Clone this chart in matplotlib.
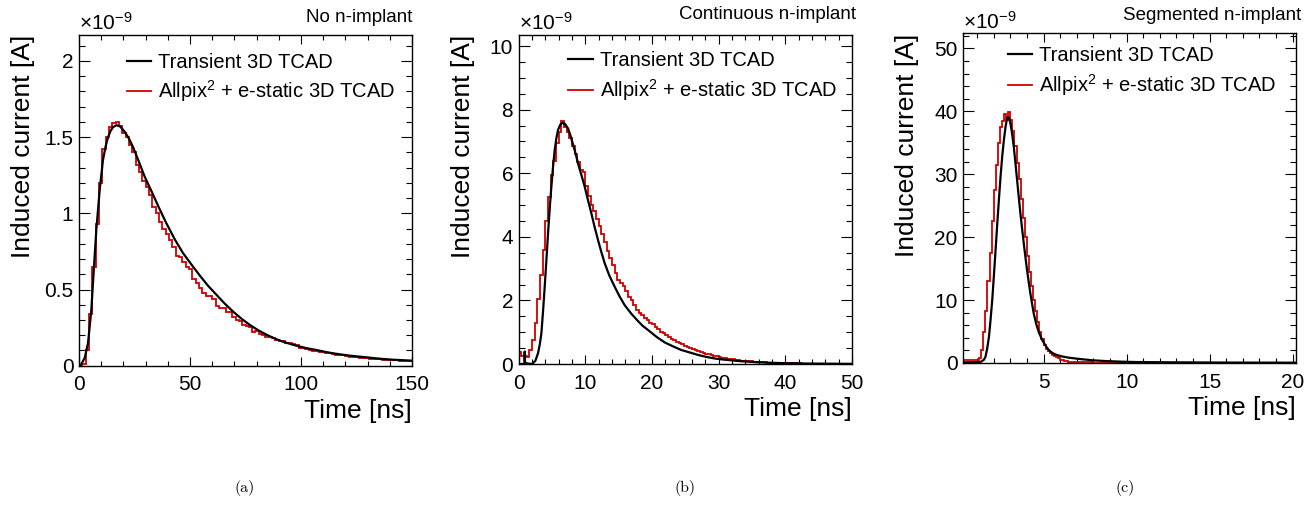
import numpy as np
import matplotlib
matplotlib.use('Agg')
import matplotlib.pyplot as plt
from matplotlib.ticker import MultipleLocator, FuncFormatter
from matplotlib.lines import Line2D

plt.rcParams['font.family'] = ['Liberation Sans', 'DejaVu Sans']
plt.rcParams['mathtext.fontset'] = 'custom'
plt.rcParams['mathtext.rm'] = 'Liberation Sans'
plt.rcParams['mathtext.it'] = 'Liberation Sans:italic'
plt.rcParams['mathtext.bf'] = 'Liberation Sans:bold'

# ---------------- data (currents in units of 1e-9 A, time in ns) ----------------
# (a) No n-implant
t_a_tcad = [0, 0.3, 1, 2.55, 4.05, 5.55, 6.75, 7.8, 9.3, 10.8, 12.0, 13.1, 14.2, 15.3, 16.8,
            18.5, 20.6, 22.5, 24.3, 26.8, 29.6, 32.5, 35.6, 39.0, 43.1, 46.8, 50.6, 54.5, 58.1,
            62, 65.8, 69.5, 73.2, 77, 80.8, 84.5, 88.2, 92, 95.8, 99.5, 103.2, 107, 110.8,
            114.6, 118.3, 122, 125.8, 129.6, 133.3, 137, 142, 147.6, 150]
i_a_tcad = [0, 0.0, 0.01, 0.05, 0.147, 0.365, 0.65, 0.89, 1.15, 1.35, 1.44, 1.50, 1.54, 1.565, 1.578,
            1.57, 1.535, 1.49, 1.436, 1.345, 1.24, 1.15, 1.05, 0.945, 0.83, 0.74, 0.665, 0.59, 0.525,
            0.464, 0.405, 0.354, 0.308, 0.267, 0.232, 0.203, 0.178, 0.157, 0.14, 0.125, 0.113, 0.103, 0.091,
            0.081, 0.073, 0.066, 0.060, 0.055, 0.049, 0.044, 0.039, 0.035, 0.033]
a_edges = np.linspace(0.0, 150.0, 101)
i_a_apx = [0.0, 0.01, 0.10, 0.34, 0.65, 0.93, 1.20, 1.42, 1.50, 1.567,
           1.59, 1.60, 1.57, 1.53, 1.50, 1.45, 1.40, 1.32, 1.27, 1.21,
           1.17, 1.12, 1.04, 1.00, 0.945, 0.90, 0.867, 0.824, 0.78, 0.72,
           0.715, 0.68, 0.645, 0.632, 0.57, 0.54, 0.507, 0.48, 0.46, 0.46,
           0.44, 0.39, 0.38, 0.38, 0.355, 0.35, 0.32, 0.30, 0.295, 0.27,
           0.26, 0.255, 0.22, 0.23, 0.205, 0.20, 0.19, 0.188, 0.185, 0.17,
           0.165, 0.162, 0.15, 0.147, 0.14, 0.135, 0.118, 0.115, 0.112, 0.105,
           0.098, 0.097, 0.092, 0.087, 0.086, 0.084, 0.075, 0.072, 0.07, 0.068,
           0.066, 0.058, 0.056, 0.054, 0.052, 0.05, 0.049, 0.047, 0.044, 0.043,
           0.041, 0.04, 0.038, 0.037, 0.036, 0.035, 0.033, 0.032, 0.031, 0.030]

# (b) Continuous n-implant
t_b_tcad = [0, 0.85, 0.9, 0.95, 1.2, 2.0, 2.5, 2.9, 3.15, 3.4, 3.65, 3.9, 4.15, 4.4, 4.65, 4.9,
            5.15, 5.4, 5.65, 5.9, 6.2, 6.55, 6.95, 7.4, 7.75, 8.1, 8.5, 8.9, 9.4, 9.9, 10.4, 10.9,
            11.4, 11.9, 12.4, 12.9, 13.6, 14.4, 15.1, 15.9, 16.9, 17.9, 18.6, 19.4, 20.7, 21.9,
            23.2, 24.4, 25.7, 27.0, 28.2, 29.5, 30.7, 33.2, 35.7, 38.2, 40.7, 43.2, 46.5, 50]
i_b_tcad = [0, 0.0, 0.39, 0.05, 0.02, 0.0, 0.1, 0.34, 0.6, 0.96, 1.65, 2.43, 3.25, 4.11, 4.88, 5.58,
            6.2, 6.73, 7.1, 7.36, 7.52, 7.59, 7.55, 7.41, 7.2, 6.94, 6.65, 6.31, 5.95, 5.58, 5.15, 4.74,
            4.3, 3.9, 3.52, 3.17, 2.78, 2.43, 2.14, 1.85, 1.58, 1.35, 1.2, 1.07, 0.85, 0.68,
            0.55, 0.44, 0.36, 0.28, 0.22, 0.17, 0.14, 0.09, 0.055, 0.035, 0.022, 0.015, 0.009, 0.005]
b_edges = np.linspace(0.0, 50.0, 126)
i_b_apx = [0.39, 0.25, 0.24, 0.23, 0.45, 0.75, 1.3, 2.05, 2.8, 3.6,
           4.5, 5.25, 5.95, 6.4, 6.95, 7.3, 7.65, 7.45, 7.3, 7.1,
           6.85, 6.6, 6.35, 6.1, 6.05, 5.6, 5.3, 5.0, 4.8, 4.55,
           4.35, 4.1, 3.85, 3.55, 3.35, 3.1, 2.85, 2.65, 2.55, 2.45,
           2.3, 2.1, 2.0, 1.85, 1.7, 1.62, 1.55, 1.45, 1.38, 1.3,
           1.25, 1.15, 1.1, 1.02, 0.97, 0.9, 0.85, 0.8, 0.75, 0.7,
           0.66, 0.62, 0.58, 0.52, 0.49, 0.46, 0.43, 0.4, 0.37, 0.35,
           0.32, 0.3, 0.28, 0.26, 0.24, 0.22, 0.2, 0.19, 0.17, 0.16,
           0.15, 0.14, 0.12, 0.11, 0.1, 0.09, 0.085, 0.08, 0.07, 0.065,
           0.06, 0.055, 0.05, 0.045, 0.04, 0.038, 0.035, 0.03, 0.028, 0.025,
           0.022, 0.02, 0.02, 0.018, 0.018, 0.016, 0.015, 0.014, 0.013, 0.012,
           0.012, 0.011, 0.01, 0.01, 0.009, 0.009, 0.008, 0.008, 0.007, 0.007,
           0.006, 0.006, 0.005, 0.005, 0.005]

# (c) Segmented n-implant
t_c_tcad = [0.15, 1.2, 1.4, 1.5, 1.6, 1.71, 1.81, 1.91, 2.01, 2.11, 2.21, 2.31, 2.41, 2.51, 2.61,
            2.71, 2.78, 2.85, 2.93, 3.01, 3.11, 3.21, 3.31, 3.41, 3.51, 3.61, 3.71, 3.81, 3.91,
            4.01, 4.11, 4.21, 4.31, 4.41, 4.56, 4.71, 4.91, 5.11, 5.3, 5.5, 5.71, 6.1, 6.5,
            7.3, 8.0, 8.8, 9.7, 10.6, 12.5, 15.0, 17.5, 20.2]
i_c_tcad = [0.1, 0.15, 0.5, 0.95, 2.2, 4.1, 6.9, 10.0, 13.9, 17.9, 22.0, 25.9, 29.6, 32.8, 35.4,
            37.5, 38.6, 39.1, 38.9, 38.0, 36.4, 34.3, 31.7, 29.0, 26.3, 23.7, 21.3, 19.0, 16.8,
            14.7, 12.8, 11.0, 9.4, 7.85, 6.2, 4.93, 3.7, 2.8, 2.1, 1.65, 1.35, 1.05, 0.85,
            0.6, 0.42, 0.3, 0.21, 0.15, 0.11, 0.08, 0.06, 0.05]
c_edges = np.linspace(0.0, 20.0, 161)
i_c_apx = [0.55, 0.55, 0.55, 0.55, 0.55, 0.55, 0.55, 0.55, 0.55, 0.8,
           2.0, 5.0, 8.2, 13.0, 17.5, 22.5, 27.5, 31.5, 35.0, 37.5,
           38.5, 39.6, 38.6, 39.9, 38.6, 36.8, 34.5, 31.8, 29.2, 26.0,
           23.0, 20.0, 17.0, 14.5, 12.3, 10.0, 8.2, 6.5, 5.0, 3.8,
           2.9, 2.3, 1.9, 1.6, 1.3, 1.1, 0.9, 0.75, 0.55, 0.42,
           0.32, 0.25, 0.2, 0.16, 0.14, 0.12, 0.11, 0.10, 0.10, 0.09,
           0.09, 0.08, 0.08, 0.08, 0.07, 0.07, 0.07, 0.06, 0.06, 0.06,
           0.06, 0.05, 0.05, 0.05, 0.05, 0.05, 0.05, 0.05, 0.05, 0.05,
           0.05, 0.05, 0.05, 0.04, 0.04, 0.04, 0.04, 0.04, 0.04, 0.04,
           0.04, 0.04, 0.04, 0.04, 0.04, 0.04, 0.04, 0.04, 0.04, 0.04,
           0.04, 0.04, 0.04, 0.04, 0.04, 0.04, 0.04, 0.035, 0.035, 0.035,
           0.035, 0.035, 0.035, 0.035, 0.035, 0.035, 0.035, 0.035, 0.035, 0.035,
           0.035, 0.035, 0.035, 0.035, 0.035, 0.035, 0.035, 0.03, 0.03, 0.03,
           0.03, 0.03, 0.03, 0.03, 0.03, 0.03, 0.03, 0.03, 0.03, 0.03,
           0.03, 0.03, 0.03, 0.03, 0.03, 0.03, 0.03, 0.03, 0.03, 0.03,
           0.03, 0.03, 0.03, 0.03, 0.03, 0.03, 0.03, 0.03, 0.03, 0.03]

titles = ["No n-implant", "Continuous n-implant", "Segmented n-implant"]
captions = ["(a)", "(b)", "(c)"]
label_tcad = "Transient 3D TCAD"
label_apx = r"Allpix$^2$ + e-static 3D TCAD"

# ---------------- figure ----------------
W, H = 1315, 513
fig = plt.figure(figsize=(W / 100, H / 100), dpi=100)

RED = '#d00000'

panels = [
    dict(box=(79, 35, 412, 365.7), t=t_a_tcad, i=i_a_tcad, edges=a_edges, h=i_a_apx,
         xlim=(0, 150), ylim=(0, 2.17), xmaj=50, xmin=10, ymaj=0.5, ymin=0.1,
         title_x=412, title_y=18, leg=(0.144, 0.946), cap_x=245),
    dict(box=(518.7, 35, 852, 364), t=t_b_tcad, i=i_b_tcad, edges=b_edges, h=i_b_apx,
         xlim=(0, 50), ylim=(0, 10.35), xmaj=10, xmin=2, ymaj=2, ymin=0.5,
         title_x=856, title_y=15, leg=(0.149, 0.950), cap_x=685),
    dict(box=(963, 33.3, 1296, 363), t=t_c_tcad, i=i_c_tcad, edges=c_edges, h=i_c_apx,
         xlim=(0.15, 20.2), ylim=(0, 52.4), xmaj=5, xmin=1, ymaj=10, ymin=2,
         title_x=1301.7, title_y=16, leg=(0.135, 0.960), cap_x=1125),
]

fmt = FuncFormatter(lambda v, p: ('%g' % round(v, 6)))

for k, p in enumerate(panels):
    x0, y0, x1, y1 = p['box']
    ax = fig.add_axes([x0 / W, 1 - y1 / H, (x1 - x0) / W, (y1 - y0) / H])
    ax.stairs(p['h'], p['edges'], baseline=None, color=RED, lw=1.3, zorder=2)
    ax.plot(p['t'], p['i'], color='black', lw=1.6, zorder=3)
    ax.set_xlim(*p['xlim'])
    ax.set_ylim(*p['ylim'])
    ax.xaxis.set_major_locator(MultipleLocator(p['xmaj']))
    ax.xaxis.set_minor_locator(MultipleLocator(p['xmin']))
    ax.yaxis.set_major_locator(MultipleLocator(p['ymaj']))
    ax.yaxis.set_minor_locator(MultipleLocator(p['ymin']))
    ax.xaxis.set_major_formatter(fmt)
    ax.yaxis.set_major_formatter(fmt)
    ax.tick_params(axis='both', which='both', direction='in', top=True, right=True,
                   labelsize=15, width=0.8, colors='black')
    ax.tick_params(axis='x', which='major', length=6.5, pad=7)
    ax.tick_params(axis='x', which='minor', length=3.3)
    ax.tick_params(axis='y', which='major', length=8, pad=4)
    ax.tick_params(axis='y', which='minor', length=4)
    for s in ax.spines.values():
        s.set_linewidth(1.0)

    ax.set_xlabel('Time [ns]', fontsize=19, loc='right', labelpad=3)
    ax.set_ylabel('Induced current [A]', fontsize=19, loc='top')
    ax.yaxis.set_label_coords(-44 / (x1 - x0), 1.0)

    ax.text(0.0, 1.003, r'$\times$10$^{-9}$', transform=ax.transAxes, fontsize=15,
            ha='left', va='bottom')
    fig.text(p['title_x'] / W, 1 - p['title_y'] / H, titles[k], fontsize=13.5,
             ha='right', va='center')

    hnd = [Line2D([], [], color='black', lw=1.6), Line2D([], [], color=RED, lw=1.3)]
    ax.legend(hnd, [label_tcad, label_apx], loc='upper left', bbox_to_anchor=p['leg'],
              frameon=False, fontsize=14.5, handlelength=1.2, handletextpad=0.35,
              labelspacing=0.33, borderpad=0, borderaxespad=0)

    fig.text(p['cap_x'] / W, 1 - 488 / H, captions[k], fontsize=11.5, family='cmr10',
             ha='center', va='center')

fig.savefig('out.png', dpi=100)
